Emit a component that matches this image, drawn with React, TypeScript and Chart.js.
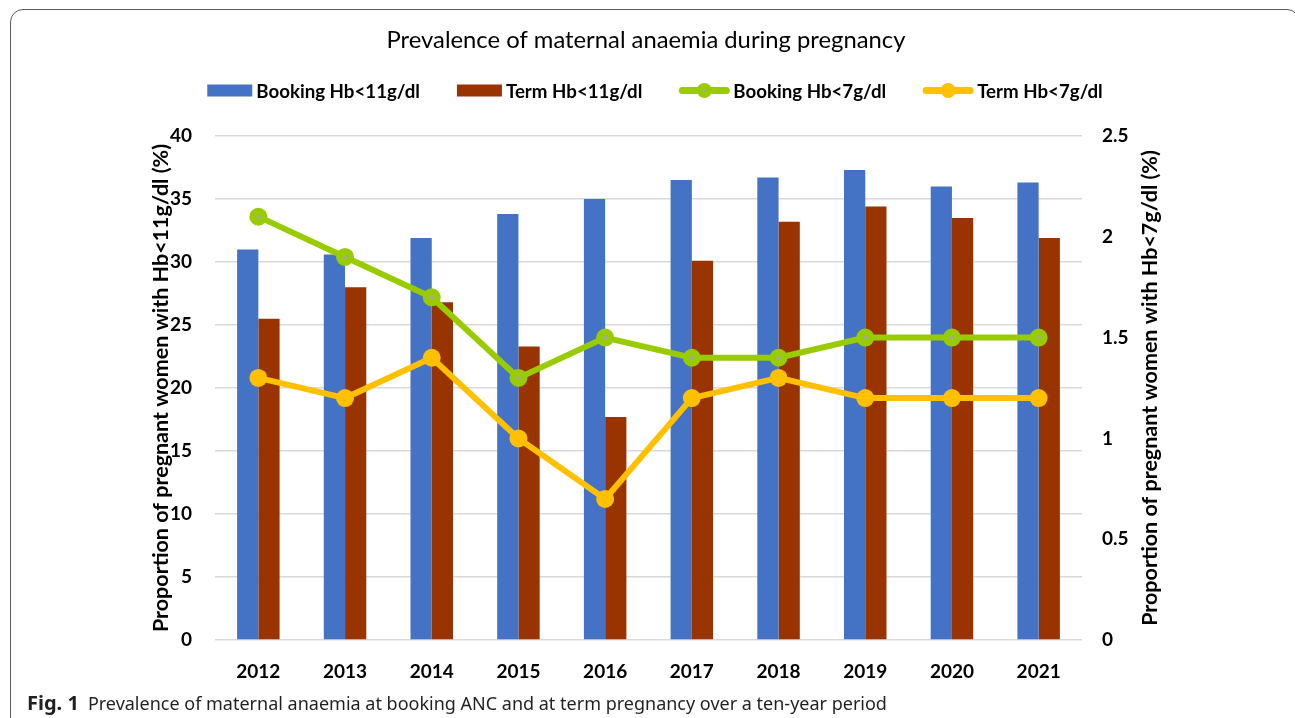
import { useEffect, useRef } from 'react';
import { Chart, registerables } from 'chart.js';

Chart.register(...registerables);

const years = ['2012', '2013', '2014', '2015', '2016', '2017', '2018', '2019', '2020', '2021'];
const bookingHb11 = [31.0, 30.6, 31.9, 33.8, 35.0, 36.5, 36.7, 37.3, 36.0, 36.3];
const termHb11 = [25.5, 28.0, 26.8, 23.3, 17.7, 30.1, 33.2, 34.4, 33.5, 31.9];
const bookingHb7 = [2.1, 1.9, 1.7, 1.3, 1.5, 1.4, 1.4, 1.5, 1.5, 1.5];
const termHb7 = [1.3, 1.2, 1.4, 1.0, 0.7, 1.2, 1.3, 1.2, 1.2, 1.2];

const leftAxis = { min: 0, max: 40, step: 5 };
const rightAxis = { min: 0, max: 2.5, step: 0.5 };

const seriesNames = ['Booking Hb<11g/dl', 'Term Hb<11g/dl', 'Booking Hb<7g/dl', 'Term Hb<7g/dl'];
const titleText = 'Prevalence of maternal anaemia during pregnancy';
const leftTitle = 'Proportion of pregnant women with Hb<11g/dl (%)';
const rightTitle = 'Proportion of pregnant women with Hb<7g/dl (%)';

const BLUE = '#4472C4';
const RED = '#993300';
const GREEN = '#99CC00';
const YELLOW = '#FFC000';
const FONT = 'Lato';

const decorPlugin = {
  id: 'decor',
  afterDraw(chart: any) {
    const ctx = chart.ctx as CanvasRenderingContext2D;
    const area = chart.chartArea;
    ctx.save();
    // title
    ctx.font = `normal 23.8px ${FONT}`;
    ctx.textAlign = 'center';
    ctx.textBaseline = 'middle';
    ctx.fillStyle = '#000';
    ctx.fillText(titleText, 646, 40);
    // legend
    ctx.font = `bold 18.7px ${FONT}`;
    ctx.textBaseline = 'middle';
    ctx.textAlign = 'left';
    const symW = [45, 45, 50, 50];
    const gapText = 4;
    const gapItem = 37;
    const widths = seriesNames.map((n, i) => symW[i] + gapText + ctx.measureText(n).width);
    const total = widths.reduce((a, b) => a + b, 0) + gapItem * (seriesNames.length - 1);
    let x = 655 - total / 2;
    const ly = 90.5;
    const colors = [BLUE, RED, GREEN, YELLOW];
    seriesNames.forEach((n, i) => {
      if (i < 2) {
        ctx.fillStyle = colors[i];
        ctx.fillRect(x, ly - 6, symW[i], 12);
      } else {
        ctx.strokeStyle = colors[i];
        ctx.lineWidth = 7;
        ctx.lineCap = 'round';
        ctx.beginPath();
        ctx.moveTo(x + 3, ly);
        ctx.lineTo(x + symW[i] - 3, ly);
        ctx.stroke();
        ctx.fillStyle = colors[i];
        ctx.beginPath();
        ctx.arc(x + symW[i] / 2, ly, 7.5, 0, Math.PI * 2);
        ctx.fill();
        if (i === 2) {
          ctx.fillStyle = '#A6A6A6';
          ctx.beginPath();
          ctx.arc(x + symW[i] / 2, ly, 1.8, 0, Math.PI * 2);
          ctx.fill();
        }
      }
      ctx.fillStyle = '#000';
      ctx.fillText(n, x + symW[i] + gapText, ly + 1);
      x += widths[i] + gapItem;
    });
    // right axis title
    ctx.font = `bold 21.5px ${FONT}`;
    ctx.textAlign = 'center';
    ctx.textBaseline = 'middle';
    ctx.fillStyle = '#000';
    ctx.translate(1150, (area.top + area.bottom) / 2);
    ctx.rotate(-Math.PI / 2);
    ctx.fillText(rightTitle, 0, 0);
    ctx.restore();
  },
};

const tickFont = { family: FONT, size: 19, weight: 'bold' };

export default function App() {
  const ref = useRef<HTMLCanvasElement>(null);
  useEffect(() => {
    const chart = new Chart(ref.current!, {
      type: 'bar',
      data: {
        labels: years,
        datasets: [
          {
            type: 'bar',
            label: seriesNames[0],
            data: bookingHb11,
            backgroundColor: BLUE,
            yAxisID: 'y',
            order: 3,
            categoryPercentage: 0.49,
            barPercentage: 1.0,
          },
          {
            type: 'bar',
            label: seriesNames[1],
            data: termHb11,
            backgroundColor: RED,
            yAxisID: 'y',
            order: 3,
            categoryPercentage: 0.49,
            barPercentage: 1.0,
          },
          {
            type: 'line',
            label: seriesNames[2],
            data: bookingHb7,
            borderColor: GREEN,
            borderWidth: 6,
            pointBackgroundColor: '#A6A6A6',
            pointBorderColor: GREEN,
            pointRadius: 5.5,
            pointBorderWidth: 7,
            yAxisID: 'y1',
            order: 1,
          } as any,
          {
            type: 'line',
            label: seriesNames[3],
            data: termHb7,
            borderColor: YELLOW,
            borderWidth: 6,
            pointBackgroundColor: YELLOW,
            pointBorderColor: YELLOW,
            pointRadius: 9,
            pointBorderWidth: 0,
            yAxisID: 'y1',
            order: 0,
          } as any,
        ],
      },
      options: {
        responsive: false,
        animation: false,
        layout: { padding: { top: 136, left: 148, right: 135, bottom: 0 } },
        plugins: {
          legend: { display: false },
          tooltip: { enabled: false },
          title: { display: false },
        },
        scales: {
          x: {
            grid: { display: false },
            border: { display: false },
            ticks: { color: '#000', font: tickFont, padding: 12 },
            afterFit: (s: any) => { s.height = 55; },
          },
          y: {
            position: 'left',
            min: leftAxis.min,
            max: leftAxis.max,
            ticks: { stepSize: leftAxis.step, color: '#000', font: tickFont, padding: 23 },
            grid: { color: '#D9D9D9', lineWidth: 1.5, drawTicks: false },
            border: { display: false },
            title: {
              display: true,
              text: leftTitle,
              color: '#000',
              font: { family: FONT, size: 21.5, weight: 'bold' },
              padding: { top: 0, bottom: 0 },
            },
            afterFit: (s: any) => { s.width = 67; },
          },
          y1: {
            position: 'right',
            min: rightAxis.min,
            max: rightAxis.max,
            ticks: {
              stepSize: rightAxis.step,
              color: '#000',
              font: tickFont,
              padding: 20,
              callback: (v: any) => String(Math.round(Number(v) * 10) / 10),
            },
            grid: { display: false, drawTicks: false },
            border: { display: false },
            afterFit: (s: any) => { s.width = 78; },
          },
        },
      },
      plugins: [decorPlugin],
    } as any);
    let alive = true;
    const fonts = (document as any).fonts;
    if (fonts && fonts.load) {
      Promise.all([
        fonts.load(`bold 19px ${FONT}`),
        fonts.load(`normal 23px ${FONT}`),
      ]).then(() => {
        if (alive) chart.update();
      });
    }
    return () => {
      alive = false;
      chart.destroy();
    };
  }, []);

  return (
    <div style={{ position: 'fixed', left: 0, top: 0, width: 1295, height: 718, overflow: 'hidden', background: '#fff' }}>
      <div
        style={{
          position: 'absolute',
          left: 10,
          top: 9,
          width: 1290,
          height: 800,
          border: '1.5px solid #5a5a5a',
          borderRadius: 13,
          boxSizing: 'border-box',
        }}
      />
      <canvas
        ref={ref}
        width={1295}
        height={695}
        style={{ position: 'absolute', left: 0, top: 0, width: 1295, height: 695 }}
      />
      <div
        style={{
          position: 'absolute',
          left: 27,
          top: 692,
          fontFamily: '"Noto Sans", sans-serif',
          fontSize: 18,
          lineHeight: '22px',
          color: '#231f20',
          whiteSpace: 'nowrap',
        }}
      >
        <b style={{ fontSize: 20 }}>Fig. 1</b>
        <span style={{ marginLeft: 9 }}>
          Prevalence of maternal anaemia at booking ANC and at term pregnancy over a ten-year period
        </span>
      </div>
    </div>
  );
}
